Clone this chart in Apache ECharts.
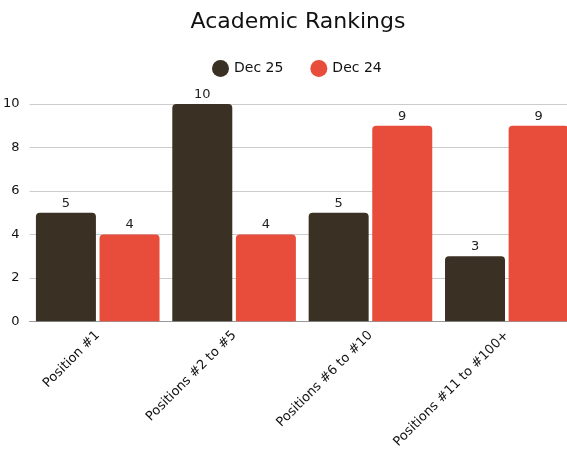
<!DOCTYPE html>
<html><head><meta charset="utf-8">
<script src="https://cdn.jsdelivr.net/npm/echarts@6/dist/echarts.min.js"></script>
<style>html,body{margin:0;padding:0;background:#fff;overflow:hidden;width:567px;height:451px}#c{width:580px;height:451px}</style>
</head><body><div id="c"></div>
<script>
const categories = ['Position #1', 'Positions #2 to #5', 'Positions #6 to #10', 'Positions #11 to #100+'];
const dec25 = [5, 10, 5, 3];
const dec24 = [4, 4, 9, 9];
const seriesNames = ['Dec 25', 'Dec 24'];
const yTicks = {min: 0, max: 10, interval: 2};

const font = 'DejaVu Sans';
const chart = echarts.init(document.getElementById('c'));
const lbl = {show: true, position: 'top', color: '#222', fontSize: 13, fontFamily: font, distance: 3};
chart.setOption({
  animation: false,
  title: {text: 'Academic Rankings', left: 293, top: 6, textAlign: 'center',
    textStyle: {fontFamily: font, fontSize: 22, fontWeight: 'normal', color: '#111'}},
  legend: {top: 55, left: 207, icon: 'circle', itemWidth: 17, itemHeight: 17, itemGap: 27,
    textStyle: {fontFamily: font, fontSize: 14, color: '#111'}},
  grid: {left: 25, width: 550, top: 104, bottom: 127, containLabel: false},
  xAxis: {type: 'category', data: categories,
    axisLine: {lineStyle: {color: '#999'}}, axisTick: {show: false},
    axisLabel: {rotate: 45, fontFamily: font, fontSize: 13, color: '#111', interval: 0, margin: 12}},
  yAxis: {type: 'value', min: yTicks.min, max: yTicks.max, interval: yTicks.interval,
    axisLabel: {fontFamily: font, fontSize: 13, color: '#111', margin: 10},
    splitLine: {lineStyle: {color: '#ccc'}}},
  series: [
    {name: seriesNames[0], type: 'bar', data: dec25, barWidth: 60, barGap: '6%',
     itemStyle: {color: '#3a3124', borderRadius: [4, 4, 0, 0]}, label: lbl},
    {name: seriesNames[1], type: 'bar', data: dec24, barWidth: 60,
     itemStyle: {color: '#e84c3a', borderRadius: [4, 4, 0, 0]}, label: lbl}
  ]
});
</script></body></html>
